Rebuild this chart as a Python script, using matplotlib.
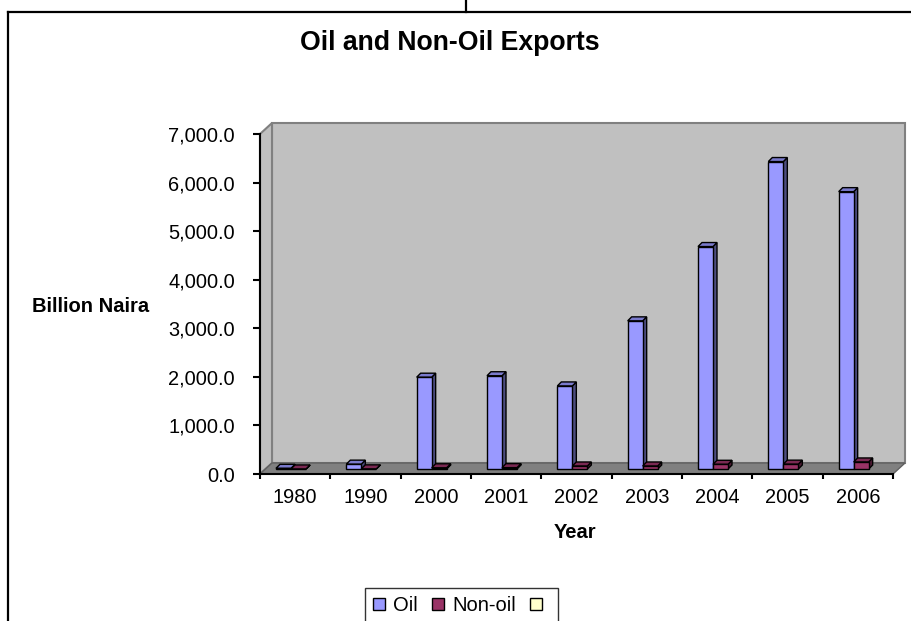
import numpy as np
import matplotlib
matplotlib.use("Agg")
import matplotlib.pyplot as plt
from matplotlib.patches import Polygon, Rectangle, Patch
from matplotlib.lines import Line2D
from matplotlib.ticker import FuncFormatter

plt.rcParams['font.family'] = ['Liberation Sans', 'DejaVu Sans']

years = ['1980', '1990', '2000', '2001', '2002', '2003', '2004', '2005', '2006']
oil = [14, 100, 1890, 1920, 1710, 3050, 4580, 6330, 5710]
non_oil = [1, 3, 25, 28, 62, 62, 97, 100, 145]
series_names = ['Oil', 'Non-oil', '']

W, H = 912, 621
fig = plt.figure(figsize=(W / 100, H / 100), dpi=100)

# plot box in pixels: x 260..893, y 134..474 (from top)
ax = fig.add_axes([260 / W, (H - 474) / H, 633 / W, 340 / H])
ax.patch.set_visible(False)
n = len(years)
ymax = 7000
ax.set_xlim(0, n)
ax.set_ylim(0, ymax)

px_x = n / 633.0          # data units per pixel, x
px_y = ymax / 340.0       # data units per pixel, y

# walls and floor (3-D depth offset)
ddx, ddy = 12 * px_x, 11 * px_y
wall_kw = dict(clip_on=False, zorder=0.5, joinstyle='miter')
ax.add_patch(Polygon([(ddx, ddy), (n + ddx, ddy), (n + ddx, ymax + ddy), (ddx, ymax + ddy)],
                     facecolor='#C0C0C0', edgecolor='#808080', lw=1.5, **wall_kw))
ax.add_patch(Polygon([(0, 0), (ddx, ddy), (ddx, ymax + ddy), (0, ymax)],
                     facecolor='#C0C0C0', edgecolor='#808080', lw=1.5, **wall_kw))
ax.add_patch(Polygon([(0, 0), (n, 0), (n + ddx, ddy), (ddx, ddy)],
                     facecolor='#808080', edgecolor='#606060', lw=1.0, **wall_kw))


def box(x0, y0, w, h, face, side, top, depth_x, depth_y, z):
    kw = dict(edgecolor='black', lw=1.0, clip_on=False, zorder=z, joinstyle='miter')
    ax.add_patch(Polygon([(x0 + w, y0), (x0 + w + depth_x, y0 + depth_y),
                          (x0 + w + depth_x, y0 + h + depth_y), (x0 + w, y0 + h)],
                         facecolor=side, **kw))
    ax.add_patch(Polygon([(x0, y0 + h), (x0 + w, y0 + h),
                          (x0 + w + depth_x, y0 + h + depth_y), (x0 + depth_x, y0 + h + depth_y)],
                         facecolor=top, **kw))
    ax.add_patch(Rectangle((x0, y0), w, h, facecolor=face, **kw))


colors = {
    'Oil': ('#9999FF', '#4D4D80', '#7A7ACC'),
    'Non-oil': ('#993366', '#4D1A33', '#7A2952'),
}
bar_w = 15 * px_x
bar_base = 5 * px_y
bdx, bdy = 4 * px_x, 4 * px_y
for i in range(n):
    x_oil = i + 16 * px_x
    box(x_oil, bar_base, bar_w, oil[i], *colors['Oil'], bdx, bdy, 3 + i * 0.1)
    box(x_oil + bar_w, bar_base, bar_w, non_oil[i], *colors['Non-oil'], bdx, bdy, 3.05 + i * 0.1)

# axes lines and ticks
for side in ['top', 'right']:
    ax.spines[side].set_visible(False)
for side in ['left', 'bottom']:
    ax.spines[side].set_linewidth(1.5)
    ax.spines[side].set_zorder(10)

ax.set_yticks(np.arange(0, ymax + 1, 1000))
ax.yaxis.set_major_formatter(FuncFormatter(lambda v, p: f'{v:,.1f}'))
ax.tick_params(axis='y', direction='out', length=5, width=1.5, pad=13, labelsize=14.4)

ax.set_xticks(np.arange(0, n + 1))
ax.set_xticklabels([])
ax.set_xticks(np.arange(n) + 0.5, minor=True)
ax.set_xticklabels(years, minor=True)
ax.tick_params(axis='x', which='major', direction='out', length=3.6, width=1.5)
ax.tick_params(axis='x', which='minor', length=0, pad=10, labelsize=14.4)

# titles
fig.text(450 / W, (H - 50) / H, 'Oil and Non-Oil Exports', ha='center', va='baseline',
         fontsize=19.2, fontweight='bold')
fig.text(91 / W, (H - 311.5) / H, 'Billion Naira', ha='center', va='baseline',
         fontsize=14.5, fontweight='bold')
fig.text(575 / W, (H - 538) / H, 'Year', ha='center', va='baseline',
         fontsize=14.5, fontweight='bold')

# legend
handles = [Patch(facecolor='#9999FF', edgecolor='black', lw=1),
           Patch(facecolor='#993366', edgecolor='black', lw=1),
           Patch(facecolor='#FFFFCC', edgecolor='black', lw=1)]
leg = fig.legend(handles, series_names, loc='upper left',
                 bbox_to_anchor=(365 / W, (H - 588) / H), bbox_transform=fig.transFigure,
                 ncol=3, fontsize=14.5, frameon=True, fancybox=False, shadow=False,
                 borderpad=0.4, handlelength=0.6, handleheight=0.6,
                 handletextpad=0.4, columnspacing=0.7, borderaxespad=0)
leg.get_frame().set_edgecolor('black')
leg.get_frame().set_linewidth(1.0)

# chart area border
frame_kw = dict(color='black', lw=1.6, transform=fig.transFigure, solid_capstyle='projecting')
fig.add_artist(Line2D([8 / W, 8 / W], [0, (H - 12) / H], **frame_kw))
fig.add_artist(Line2D([8 / W, 1], [(H - 12) / H, (H - 12) / H], **frame_kw))
fig.add_artist(Line2D([466 / W, 466 / W], [(H - 12) / H, 1], **frame_kw))

fig.savefig('out.png', dpi=100)
